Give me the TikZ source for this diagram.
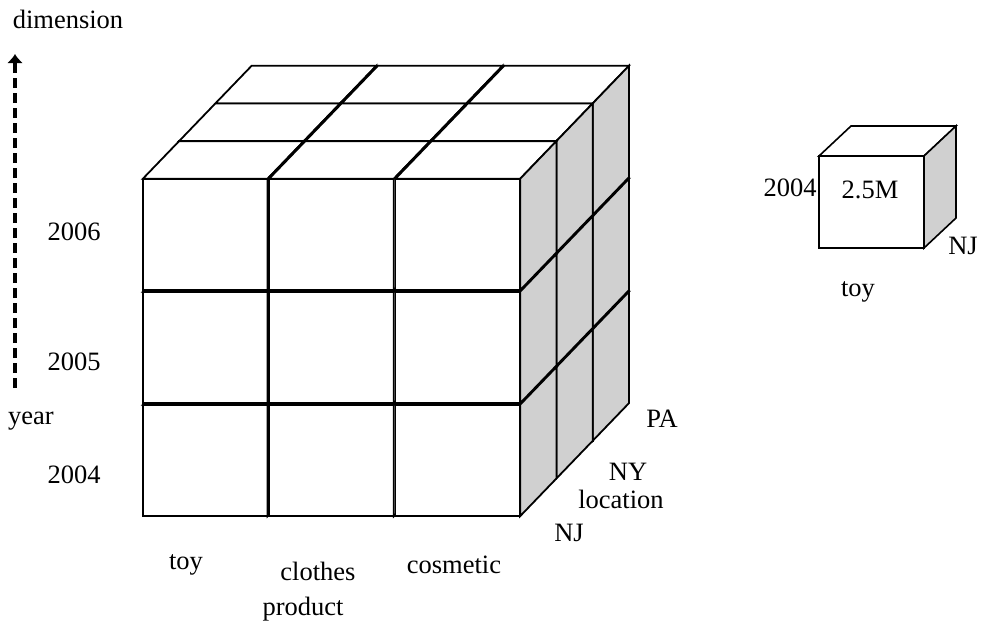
\documentclass[tikz,border=0pt]{standalone}
\usepackage{fontspec}
\setmainfont{Liberation Serif}
\usetikzlibrary{arrows.meta}
\definecolor{sidegray}{RGB}{208,208,208}
\begin{document}
\begin{tikzpicture}[x=1pt,y=-1pt,
  face/.style={draw=black,line width=1.8pt,line join=miter,fill=white},
  side/.style={face,fill=sidegray},
  lbl/.style={font=\fontsize{26.5}{30}\selectfont,inner sep=0pt},
  axisarrow/.style={line width=3.4pt,dash pattern=on 10pt off 5pt,-{Latex[length=9pt,width=16pt]}},
]
\useasboundingbox (0,0) rectangle (983,625);
\def\W{126.3}\def\H{113}\def\DX{36.3}\def\DY{-37.7}\def\G{0.8}
% big cube: back layers first, left to right, bottom to top
\foreach \k in {2,1,0}{
 \foreach \c in {0,1,2}{
  \foreach \r in {2,1,0}{
    \pgfmathsetmacro\xa{142+\c*\W+\k*\DX+\G}
    \pgfmathsetmacro\ya{178+\r*\H+\k*\DY+\G}
    \pgfmathsetmacro\xb{142+(\c+1)*\W+\k*\DX-\G}
    \pgfmathsetmacro\yb{178+(\r+1)*\H+\k*\DY-\G}
    \draw[face] (\xa,\ya) rectangle (\xb,\yb);
    \draw[face] (\xa,\ya) -- ++(\DX,\DY) -- ++(\xb-\xa,0) -- (\xb,\ya) -- cycle;
    \draw[side] (\xb,\ya) -- ++(\DX,\DY) -- ++(0,\yb-\ya) -- (\xb,\yb) -- cycle;
  }}}
% small cube
\draw[face,line width=1.6pt] (819,156) rectangle (924,248);
\draw[face,line width=1.6pt] (819,156) -- ++(32,-30) -- ++(105,0) -- (924,156) -- cycle;
\draw[side,line width=1.6pt] (924,156) -- ++(32,-30) -- ++(0,92) -- (924,248) -- cycle;

% axis arrow
\coordinate (ybot) at (15,388);
\coordinate (ytop) at (15,54);
\draw[axisarrow] (ybot) -- (ytop);

% labels
\node[lbl] (dim) at (68,19) {dimension};
\node[lbl] (y2006) at (74,232) {2006};
\node[lbl] (y2005) at (74,362) {2005};
\node[lbl] (year) at (31,421) {year};
\node[lbl] (y2004) at (74,475) {2004};
\node[lbl] (ptoy) at (186,565) {toy};
\node[lbl] (pclothes) at (318,571) {clothes};
\node[lbl] (pcos) at (454,565) {cosmetic};
\node[lbl] (product) at (303,609) {product};
\node[lbl] (lnj) at (569,533) {NJ};
\node[lbl] (lny) at (628,472) {NY};
\node[lbl] (loc) at (621,499) {location};
\node[lbl] (lpa) at (662,419) {PA};
\node[lbl] (s2004) at (790,188) {2004};
\node[lbl] (sval) at (870,190) {2.5M};
\node[lbl] (snj) at (963,246) {NJ};
\node[lbl] (stoy) at (858,292) {toy};
\end{tikzpicture}
\end{document}
